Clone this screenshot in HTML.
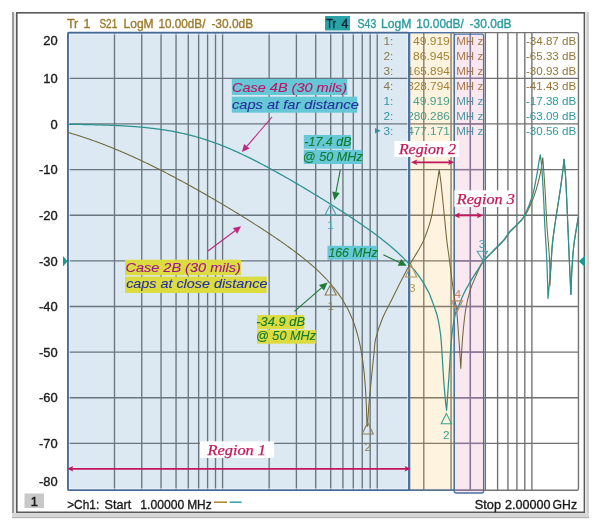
<!DOCTYPE html>
<html><head><meta charset="utf-8"><style>
html,body{margin:0;padding:0;background:#fff;}
svg{display:block;}
</style></head><body>
<svg width="600" height="530" viewBox="0 0 600 530" font-family="'Liberation Sans', Arial, sans-serif">
<rect x="0" y="0" width="600" height="530" fill="#ffffff"/>

<rect x="12" y="12" width="2" height="506" fill="#9a9a9a"/>
<rect x="14" y="13" width="2" height="504" fill="#e8e8e8"/>
<rect x="16" y="12" width="569" height="1.6" fill="#585858"/>
<rect x="16" y="12" width="1.6" height="501" fill="#585858"/>
<rect x="16" y="511.5" width="569" height="1.5" fill="#5a5a5a"/>
<rect x="583.6" y="12" width="1.5" height="501" fill="#5a5a5a"/>
<rect x="585" y="12" width="2" height="506" fill="#e2e2e2"/>
<rect x="587" y="12" width="2" height="506" fill="#cdcdcd"/>
<rect x="12" y="513" width="577" height="5" fill="#d8d8d8"/>
<rect x="12" y="517" width="577" height="1.2" fill="#b4b4b4"/>
<text x="393.3" y="44.9" font-size="11.8" fill="#967634" text-anchor="end">1:</text>
<text x="449.8" y="44.9" font-size="11.8" fill="#967634" text-anchor="end" textLength="36.8" lengthAdjust="spacingAndGlyphs">49.919</text>
<text x="456.2" y="44.9" font-size="11.6" fill="#967634" textLength="27.0" lengthAdjust="spacingAndGlyphs">MH z</text>
<text x="576.2" y="44.9" font-size="11.6" fill="#967634" text-anchor="end">-34.87 dB</text>
<text x="393.3" y="59.9" font-size="11.8" fill="#967634" text-anchor="end">2:</text>
<text x="449.8" y="59.9" font-size="11.8" fill="#967634" text-anchor="end" textLength="36.8" lengthAdjust="spacingAndGlyphs">86.945</text>
<text x="456.2" y="59.9" font-size="11.6" fill="#967634" textLength="27.0" lengthAdjust="spacingAndGlyphs">MH z</text>
<text x="576.2" y="59.9" font-size="11.6" fill="#967634" text-anchor="end">-65.33 dB</text>
<text x="393.3" y="74.9" font-size="11.8" fill="#967634" text-anchor="end">3:</text>
<text x="449.8" y="74.9" font-size="11.8" fill="#967634" text-anchor="end" textLength="42.6" lengthAdjust="spacingAndGlyphs">165.894</text>
<text x="456.2" y="74.9" font-size="11.6" fill="#967634" textLength="27.0" lengthAdjust="spacingAndGlyphs">MH z</text>
<text x="576.2" y="74.9" font-size="11.6" fill="#967634" text-anchor="end">-30.93 dB</text>
<text x="393.3" y="89.8" font-size="11.8" fill="#967634" text-anchor="end">4:</text>
<text x="449.8" y="89.8" font-size="11.8" fill="#967634" text-anchor="end" textLength="42.6" lengthAdjust="spacingAndGlyphs">328.794</text>
<text x="456.2" y="89.8" font-size="11.6" fill="#967634" textLength="27.0" lengthAdjust="spacingAndGlyphs">MH z</text>
<text x="576.2" y="89.8" font-size="11.6" fill="#967634" text-anchor="end">-41.43 dB</text>
<text x="393.3" y="104.8" font-size="11.8" fill="#2a9a9e" text-anchor="end">1:</text>
<text x="449.8" y="104.8" font-size="11.8" fill="#2a9a9e" text-anchor="end" textLength="36.8" lengthAdjust="spacingAndGlyphs">49.919</text>
<text x="456.2" y="104.8" font-size="11.6" fill="#2a9a9e" textLength="27.0" lengthAdjust="spacingAndGlyphs">MH z</text>
<text x="576.2" y="104.8" font-size="11.6" fill="#2a9a9e" text-anchor="end">-17.38 dB</text>
<text x="393.3" y="119.8" font-size="11.8" fill="#2a9a9e" text-anchor="end">2:</text>
<text x="449.8" y="119.8" font-size="11.8" fill="#2a9a9e" text-anchor="end" textLength="42.6" lengthAdjust="spacingAndGlyphs">280.286</text>
<text x="456.2" y="119.8" font-size="11.6" fill="#2a9a9e" textLength="27.0" lengthAdjust="spacingAndGlyphs">MH z</text>
<text x="576.2" y="119.8" font-size="11.6" fill="#2a9a9e" text-anchor="end">-63.09 dB</text>
<text x="393.3" y="134.8" font-size="11.8" fill="#2a9a9e" text-anchor="end">3:</text>
<text x="449.8" y="134.8" font-size="11.8" fill="#2a9a9e" text-anchor="end" textLength="42.6" lengthAdjust="spacingAndGlyphs">477.171</text>
<text x="456.2" y="134.8" font-size="11.6" fill="#2a9a9e" textLength="27.0" lengthAdjust="spacingAndGlyphs">MH z</text>
<text x="576.2" y="134.8" font-size="11.6" fill="#2a9a9e" text-anchor="end">-30.56 dB</text>
<polygon points="375,128 375,133.6 380.8,130.8" fill="#2a9a9e"/>
<line x1="114.50" y1="32.66" x2="114.50" y2="490.2" stroke="#707070" stroke-width="1.35"/>
<line x1="141.74" y1="32.66" x2="141.74" y2="490.2" stroke="#707070" stroke-width="1.35"/>
<line x1="161.06" y1="32.66" x2="161.06" y2="490.2" stroke="#707070" stroke-width="1.35"/>
<line x1="176.05" y1="32.66" x2="176.05" y2="490.2" stroke="#707070" stroke-width="1.35"/>
<line x1="188.29" y1="32.66" x2="188.29" y2="490.2" stroke="#707070" stroke-width="1.35"/>
<line x1="198.64" y1="32.66" x2="198.64" y2="490.2" stroke="#707070" stroke-width="1.35"/>
<line x1="207.61" y1="32.66" x2="207.61" y2="490.2" stroke="#707070" stroke-width="1.35"/>
<line x1="215.52" y1="32.66" x2="215.52" y2="490.2" stroke="#707070" stroke-width="1.35"/>
<line x1="222.60" y1="32.66" x2="222.60" y2="490.2" stroke="#707070" stroke-width="1.35"/>
<line x1="269.15" y1="32.66" x2="269.15" y2="490.2" stroke="#707070" stroke-width="1.35"/>
<line x1="296.39" y1="32.66" x2="296.39" y2="490.2" stroke="#707070" stroke-width="1.35"/>
<line x1="315.71" y1="32.66" x2="315.71" y2="490.2" stroke="#707070" stroke-width="1.35"/>
<line x1="330.70" y1="32.66" x2="330.70" y2="490.2" stroke="#707070" stroke-width="1.35"/>
<line x1="342.94" y1="32.66" x2="342.94" y2="490.2" stroke="#707070" stroke-width="1.35"/>
<line x1="353.29" y1="32.66" x2="353.29" y2="490.2" stroke="#707070" stroke-width="1.35"/>
<line x1="362.26" y1="32.66" x2="362.26" y2="490.2" stroke="#707070" stroke-width="1.35"/>
<line x1="370.17" y1="32.66" x2="370.17" y2="490.2" stroke="#707070" stroke-width="1.35"/>
<line x1="377.25" y1="32.66" x2="377.25" y2="490.2" stroke="#707070" stroke-width="1.35"/>
<line x1="423.80" y1="32.66" x2="423.80" y2="490.2" stroke="#707070" stroke-width="1.35"/>
<line x1="451.04" y1="32.66" x2="451.04" y2="490.2" stroke="#707070" stroke-width="1.35"/>
<line x1="470.36" y1="32.66" x2="470.36" y2="490.2" stroke="#707070" stroke-width="1.35"/>
<line x1="485.35" y1="32.66" x2="485.35" y2="490.2" stroke="#707070" stroke-width="1.35"/>
<line x1="497.59" y1="32.66" x2="497.59" y2="490.2" stroke="#707070" stroke-width="1.35"/>
<line x1="507.94" y1="32.66" x2="507.94" y2="490.2" stroke="#707070" stroke-width="1.35"/>
<line x1="516.91" y1="32.66" x2="516.91" y2="490.2" stroke="#707070" stroke-width="1.35"/>
<line x1="524.82" y1="32.66" x2="524.82" y2="490.2" stroke="#707070" stroke-width="1.35"/>
<line x1="531.90" y1="32.66" x2="531.90" y2="490.2" stroke="#707070" stroke-width="1.35"/>
<line x1="67.95" y1="78.30" x2="578.4542888294347" y2="78.30" stroke="#707070" stroke-width="1.35"/>
<line x1="67.95" y1="123.94" x2="578.4542888294347" y2="123.94" stroke="#707070" stroke-width="1.35"/>
<line x1="67.95" y1="169.58" x2="578.4542888294347" y2="169.58" stroke="#707070" stroke-width="1.35"/>
<line x1="67.95" y1="215.22" x2="578.4542888294347" y2="215.22" stroke="#707070" stroke-width="1.35"/>
<line x1="67.95" y1="260.86" x2="578.4542888294347" y2="260.86" stroke="#707070" stroke-width="1.35"/>
<line x1="67.95" y1="306.50" x2="578.4542888294347" y2="306.50" stroke="#707070" stroke-width="1.35"/>
<line x1="67.95" y1="352.14" x2="578.4542888294347" y2="352.14" stroke="#707070" stroke-width="1.35"/>
<line x1="67.95" y1="397.78" x2="578.4542888294347" y2="397.78" stroke="#707070" stroke-width="1.35"/>
<line x1="67.95" y1="443.42" x2="578.4542888294347" y2="443.42" stroke="#707070" stroke-width="1.35"/>
<rect x="67.95" y="32.66" width="510.50428882943476" height="457.53999999999996" fill="none" stroke="#747474" stroke-width="1.4" rx="1.5"/>
<rect x="67.95" y="32.66" width="341.25" height="457.53999999999996" fill="#508cbe" fill-opacity="0.2"/>
<rect x="409.2" y="32.66" width="45.10000000000002" height="457.53999999999996" fill="#f3b635" fill-opacity="0.163"/>
<rect x="454.3" y="34.2" width="29.30000000000001" height="458.8" rx="2" fill="#e37fac" fill-opacity="0.18"/>
<line x1="470.36" y1="34.2" x2="470.36" y2="490.2" stroke="#8a7898" stroke-width="1.35"/>
<line x1="454.3" y1="78.30" x2="483.6" y2="78.30" stroke="#8a7898" stroke-width="1.35"/>
<line x1="454.3" y1="123.94" x2="483.6" y2="123.94" stroke="#8a7898" stroke-width="1.35"/>
<line x1="454.3" y1="169.58" x2="483.6" y2="169.58" stroke="#8a7898" stroke-width="1.35"/>
<line x1="454.3" y1="215.22" x2="483.6" y2="215.22" stroke="#8a7898" stroke-width="1.35"/>
<line x1="454.3" y1="260.86" x2="483.6" y2="260.86" stroke="#8a7898" stroke-width="1.35"/>
<line x1="454.3" y1="306.50" x2="483.6" y2="306.50" stroke="#8a7898" stroke-width="1.35"/>
<line x1="454.3" y1="352.14" x2="483.6" y2="352.14" stroke="#8a7898" stroke-width="1.35"/>
<line x1="454.3" y1="397.78" x2="483.6" y2="397.78" stroke="#8a7898" stroke-width="1.35"/>
<line x1="454.3" y1="443.42" x2="483.6" y2="443.42" stroke="#8a7898" stroke-width="1.35"/>
<line x1="454.3" y1="490.20" x2="483.6" y2="490.20" stroke="#8a7898" stroke-width="1.4"/>
<rect x="69.35000000000001" y="34.059999999999995" width="338.45" height="454.73999999999995" fill="none" stroke="#f4faff" stroke-opacity="0.8" stroke-width="0.9"/>
<rect x="67.95" y="32.66" width="341.25" height="457.53999999999996" fill="none" stroke="#44699a" stroke-width="1.6" rx="1"/>
<line x1="409.2" y1="32.66" x2="409.2" y2="490.2" stroke="#4a72a4" stroke-width="2.2"/>
<rect x="409.2" y="32.66" width="45.10000000000002" height="457.53999999999996" fill="none" stroke="#4a72a4" stroke-width="1.3" rx="2"/>
<rect x="454.3" y="34.2" width="29.30000000000001" height="458.8" rx="2" fill="none" stroke="#4a72a4" stroke-width="1.3"/>
<text x="57.6" y="44.6" font-size="12.9" fill="#1a1a1a" text-anchor="end" stroke="#1a1a1a" stroke-width="0.35">20</text>
<text x="57.6" y="82.9" font-size="12.9" fill="#1a1a1a" text-anchor="end" stroke="#1a1a1a" stroke-width="0.35">10</text>
<text x="57.6" y="128.5" font-size="12.9" fill="#1a1a1a" text-anchor="end" stroke="#1a1a1a" stroke-width="0.35">0</text>
<text x="57.6" y="174.2" font-size="12.9" fill="#1a1a1a" text-anchor="end" stroke="#1a1a1a" stroke-width="0.35">-10</text>
<text x="57.6" y="219.8" font-size="12.9" fill="#1a1a1a" text-anchor="end" stroke="#1a1a1a" stroke-width="0.35">-20</text>
<text x="57.6" y="265.5" font-size="12.9" fill="#1a1a1a" text-anchor="end" stroke="#1a1a1a" stroke-width="0.35">-30</text>
<text x="57.6" y="311.1" font-size="12.9" fill="#1a1a1a" text-anchor="end" stroke="#1a1a1a" stroke-width="0.35">-40</text>
<text x="57.6" y="356.7" font-size="12.9" fill="#1a1a1a" text-anchor="end" stroke="#1a1a1a" stroke-width="0.35">-50</text>
<text x="57.6" y="402.4" font-size="12.9" fill="#1a1a1a" text-anchor="end" stroke="#1a1a1a" stroke-width="0.35">-60</text>
<text x="57.6" y="448.0" font-size="12.9" fill="#1a1a1a" text-anchor="end" stroke="#1a1a1a" stroke-width="0.35">-70</text>
<text x="57.6" y="485.8" font-size="12.9" fill="#1a1a1a" text-anchor="end" stroke="#1a1a1a" stroke-width="0.35">-80</text>
<text x="66.9" y="27.9" font-size="12.4" fill="#9a7a2a" textLength="11.4" lengthAdjust="spacingAndGlyphs" stroke="#9a7a2a" stroke-width="0.35">Tr</text>
<text x="83.6" y="27.9" font-size="12.4" fill="#9a7a2a" stroke="#9a7a2a" stroke-width="0.35">1</text>
<text x="99.4" y="27.9" font-size="12.4" fill="#9a7a2a" textLength="17.9" lengthAdjust="spacingAndGlyphs" stroke="#9a7a2a" stroke-width="0.35">S21</text>
<text x="123.6" y="27.9" font-size="12.4" fill="#9a7a2a" textLength="30.0" lengthAdjust="spacingAndGlyphs" stroke="#9a7a2a" stroke-width="0.35">LogM</text>
<text x="158.4" y="27.9" font-size="12.4" fill="#9a7a2a" textLength="47.0" lengthAdjust="spacingAndGlyphs" stroke="#9a7a2a" stroke-width="0.35">10.00dB/</text>
<text x="211.4" y="27.9" font-size="12.4" fill="#9a7a2a" textLength="41.8" lengthAdjust="spacingAndGlyphs" stroke="#9a7a2a" stroke-width="0.35">-30.0dB</text>
<rect x="325" y="16" width="25" height="14.5" fill="#2aa3a6"/>
<text x="326.2" y="28.0" font-size="12.4" fill="#0e2230" textLength="9.8" lengthAdjust="spacingAndGlyphs" stroke="#0e2230" stroke-width="0.35">Tr</text>
<text x="341.6" y="28.0" font-size="12.4" fill="#0e2230" stroke="#0e2230" stroke-width="0.35">4</text>
<text x="357.6" y="28.0" font-size="12.4" fill="#2a9a9c" textLength="18.7" lengthAdjust="spacingAndGlyphs" stroke="#2a9a9c" stroke-width="0.35">S43</text>
<text x="381.1" y="28.0" font-size="12.4" fill="#2a9a9c" textLength="30.4" lengthAdjust="spacingAndGlyphs" stroke="#2a9a9c" stroke-width="0.35">LogM</text>
<text x="416.3" y="28.0" font-size="12.4" fill="#2a9a9c" textLength="47.5" lengthAdjust="spacingAndGlyphs" stroke="#2a9a9c" stroke-width="0.35">10.00dB/</text>
<text x="469.6" y="28.0" font-size="12.4" fill="#2a9a9c" textLength="42.0" lengthAdjust="spacingAndGlyphs" stroke="#2a9a9c" stroke-width="0.35">-30.0dB</text>
<path d="M68.00,132.45 C68.33,132.54 69.33,132.83 70.00,133.03 C70.67,133.23 71.33,133.43 72.00,133.63 C72.67,133.83 73.33,134.03 74.00,134.23 C74.67,134.43 75.33,134.64 76.00,134.85 C76.67,135.05 77.33,135.26 78.00,135.47 C78.67,135.68 79.33,135.90 80.00,136.11 C80.67,136.33 81.33,136.54 82.00,136.76 C82.67,136.98 83.33,137.20 84.00,137.42 C84.67,137.64 85.33,137.86 86.00,138.09 C86.67,138.31 87.33,138.54 88.00,138.77 C88.67,139.00 89.33,139.23 90.00,139.46 C90.67,139.69 91.33,139.93 92.00,140.16 C92.67,140.40 93.33,140.64 94.00,140.88 C94.67,141.12 95.33,141.36 96.00,141.60 C96.67,141.84 97.33,142.09 98.00,142.33 C98.67,142.58 99.33,142.83 100.00,143.08 C100.67,143.33 101.33,143.58 102.00,143.83 C102.67,144.08 103.33,144.34 104.00,144.60 C104.67,144.85 105.33,145.11 106.00,145.37 C106.67,145.63 107.33,145.89 108.00,146.16 C108.67,146.42 109.33,146.68 110.00,146.95 C110.67,147.22 111.33,147.49 112.00,147.76 C112.67,148.03 113.33,148.30 114.00,148.57 C114.67,148.84 115.33,149.12 116.00,149.39 C116.67,149.67 117.33,149.95 118.00,150.23 C118.67,150.51 119.33,150.79 120.00,151.07 C120.67,151.36 121.33,151.64 122.00,151.93 C122.67,152.21 123.33,152.50 124.00,152.79 C124.67,153.08 125.33,153.37 126.00,153.66 C126.67,153.95 127.33,154.25 128.00,154.54 C128.67,154.84 129.33,155.13 130.00,155.43 C130.67,155.73 131.33,156.03 132.00,156.33 C132.67,156.63 133.33,156.94 134.00,157.24 C134.67,157.54 135.33,157.85 136.00,158.16 C136.67,158.46 137.33,158.77 138.00,159.08 C138.67,159.39 139.33,159.70 140.00,160.01 C140.67,160.33 141.33,160.64 142.00,160.96 C142.67,161.27 143.33,161.59 144.00,161.91 C144.67,162.22 145.33,162.54 146.00,162.86 C146.67,163.18 147.33,163.51 148.00,163.83 C148.67,164.15 149.33,164.48 150.00,164.80 C150.67,165.13 151.33,165.45 152.00,165.78 C152.67,166.11 153.33,166.44 154.00,166.77 C154.67,167.10 155.33,167.43 156.00,167.77 C156.67,168.10 157.33,168.43 158.00,168.77 C158.67,169.11 159.33,169.44 160.00,169.78 C160.67,170.12 161.33,170.46 162.00,170.80 C162.67,171.14 163.33,171.48 164.00,171.82 C164.67,172.16 165.33,172.51 166.00,172.85 C166.67,173.20 167.33,173.54 168.00,173.89 C168.67,174.24 169.33,174.58 170.00,174.93 C170.67,175.28 171.33,175.63 172.00,175.98 C172.67,176.33 173.33,176.69 174.00,177.04 C174.67,177.39 175.33,177.75 176.00,178.10 C176.67,178.46 177.33,178.81 178.00,179.17 C178.67,179.53 179.33,179.89 180.00,180.25 C180.67,180.61 181.33,180.97 182.00,181.33 C182.67,181.69 183.33,182.05 184.00,182.41 C184.67,182.78 185.33,183.14 186.00,183.50 C186.67,183.87 187.33,184.24 188.00,184.60 C188.67,184.97 189.33,185.34 190.00,185.70 C190.67,186.07 191.33,186.44 192.00,186.81 C192.67,187.18 193.33,187.55 194.00,187.93 C194.67,188.30 195.33,188.67 196.00,189.05 C196.67,189.42 197.33,189.79 198.00,190.17 C198.67,190.54 199.33,190.92 200.00,191.30 C200.67,191.68 201.33,192.05 202.00,192.43 C202.67,192.81 203.33,193.19 204.00,193.57 C204.67,193.95 205.33,194.33 206.00,194.72 C206.67,195.10 207.33,195.48 208.00,195.86 C208.67,196.25 209.33,196.63 210.00,197.02 C210.67,197.40 211.33,197.79 212.00,198.18 C212.67,198.56 213.33,198.95 214.00,199.34 C214.67,199.73 215.33,200.12 216.00,200.51 C216.67,200.90 217.33,201.29 218.00,201.68 C218.67,202.07 219.33,202.46 220.00,202.86 C220.67,203.25 221.33,203.65 222.00,204.04 C222.67,204.44 223.33,204.83 224.00,205.23 C224.67,205.62 225.33,206.02 226.00,206.42 C226.67,206.82 227.33,207.22 228.00,207.62 C228.67,208.02 229.33,208.42 230.00,208.82 C230.67,209.22 231.33,209.62 232.00,210.02 C232.67,210.43 233.33,210.83 234.00,211.24 C234.67,211.64 235.33,212.05 236.00,212.45 C236.67,212.86 237.33,213.27 238.00,213.68 C238.67,214.08 239.33,214.49 240.00,214.90 C240.67,215.31 241.33,215.72 242.00,216.14 C242.67,216.55 243.33,216.96 244.00,217.37 C244.67,217.79 245.33,218.20 246.00,218.62 C246.67,219.03 247.33,219.45 248.00,219.87 C248.67,220.28 249.33,220.70 250.00,221.12 C250.67,221.54 251.33,221.96 252.00,222.38 C252.67,222.80 253.33,223.23 254.00,223.65 C254.67,224.07 255.33,224.50 256.00,224.93 C256.67,225.35 257.33,225.78 258.00,226.21 C258.67,226.64 259.33,227.06 260.00,227.50 C260.67,227.93 261.33,228.36 262.00,228.79 C262.67,229.22 263.33,229.66 264.00,230.10 C264.67,230.53 265.33,230.97 266.00,231.41 C266.67,231.85 267.33,232.29 268.00,232.73 C268.67,233.17 269.33,233.61 270.00,234.06 C270.67,234.50 271.33,234.95 272.00,235.40 C272.67,235.84 273.33,236.29 274.00,236.74 C274.67,237.20 275.33,237.65 276.00,238.10 C276.67,238.56 277.33,239.01 278.00,239.47 C278.67,239.93 279.33,240.39 280.00,240.86 C280.67,241.32 281.33,241.78 282.00,242.25 C282.67,242.72 283.33,243.18 284.00,243.66 C284.67,244.13 285.33,244.60 286.00,245.08 C286.67,245.55 287.33,246.03 288.00,246.51 C288.67,246.99 289.33,247.48 290.00,247.97 C290.67,248.45 291.33,248.94 292.00,249.43 C292.67,249.93 293.33,250.42 294.00,250.92 C294.67,251.42 295.33,251.92 296.00,252.43 C296.67,252.93 297.33,253.44 298.00,253.95 C298.67,254.47 299.33,254.98 300.00,255.50 C300.67,256.02 301.33,256.55 302.00,257.08 C302.67,257.61 303.33,258.14 304.00,258.68 C304.67,259.21 305.33,259.75 306.00,260.30 C306.67,260.85 307.33,261.40 308.00,261.96 C308.67,262.52 309.33,263.08 310.00,263.65 C310.67,264.22 311.33,264.79 312.00,265.37 C312.67,265.95 313.33,266.54 314.00,267.14 C314.67,267.73 315.33,268.33 316.00,268.94 C316.67,269.55 317.33,270.17 318.00,270.79 C318.67,271.42 319.33,272.05 320.00,272.69 C320.67,273.34 321.33,273.99 322.00,274.65 C322.67,275.31 323.33,275.98 324.00,276.67 C324.67,277.35 325.33,278.04 326.00,278.75 C326.67,279.46 327.33,280.18 328.00,280.91 C328.67,281.64 329.33,282.39 330.00,283.15 C330.67,283.92 331.33,284.69 332.00,285.49 C332.67,286.28 333.33,287.10 334.00,287.93 C334.67,288.76 335.33,289.61 336.00,290.49 C336.67,291.36 337.33,292.26 338.00,293.18 C338.67,294.11 339.33,295.05 340.00,296.03 C340.67,297.01 341.33,298.02 342.00,299.06 C342.67,300.11 343.33,301.18 344.00,302.30 C344.67,303.42 345.33,304.58 346.00,305.79 C346.67,307.01 347.33,308.26 348.00,309.58 C348.67,310.90 349.33,312.27 350.00,313.73 C350.67,315.19 351.33,316.71 352.00,318.34 C352.67,319.97 353.33,321.67 354.00,323.52 C354.67,325.38 355.33,327.31 356.00,329.47 C356.67,331.62 357.33,333.87 358.00,336.46 C358.67,339.04 359.58,343.14 360.00,344.97 C360.42,346.80 360.33,346.58 360.50,347.43 C360.67,348.28 360.83,349.15 361.00,350.06 C361.17,350.96 361.33,351.90 361.50,352.88 C361.67,353.85 361.83,354.86 362.00,355.92 C362.17,356.98 362.33,358.07 362.50,359.23 C362.67,360.38 362.83,361.58 363.00,362.85 C363.17,364.13 363.33,365.45 363.50,366.86 C363.67,368.28 363.83,369.76 364.00,371.35 C364.17,372.95 364.33,374.62 364.50,376.45 C364.67,378.28 364.83,380.20 365.00,382.35 C365.17,384.51 365.33,386.76 365.50,389.36 C365.67,391.97 365.83,394.69 366.00,398.01 C366.17,401.32 366.33,404.69 366.50,409.28 C366.67,413.87 366.82,423.10 367.00,425.55 C367.18,428.01 367.50,424.26 367.60,424.00 C367.92,419.67 368.43,409.83 369.50,398.00 C370.57,386.17 372.95,362.95 374.00,353.00 C375.05,343.05 374.37,344.13 375.80,338.30 C377.23,332.47 380.05,324.22 382.60,318.00 C385.15,311.78 387.98,307.23 391.10,301.00 C394.22,294.77 398.18,286.68 401.30,280.60 C404.42,274.52 407.10,269.30 409.80,264.50 C412.50,259.70 415.27,255.65 417.50,251.80 C419.73,247.95 421.47,245.17 423.20,241.40 C424.93,237.63 426.48,233.45 427.90,229.20 C429.32,224.95 430.60,220.93 431.70,215.90 C432.80,210.87 433.62,204.33 434.50,199.00 C435.38,193.67 436.22,188.78 437.00,183.90 C437.78,179.02 438.83,172.07 439.20,169.70 C439.52,172.07 440.30,176.82 441.10,183.90 C441.90,190.98 443.05,202.77 444.00,212.20 C444.95,221.63 445.87,232.33 446.80,240.50 C447.73,248.67 448.78,254.95 449.60,261.20 C450.42,267.45 450.88,271.87 451.70,278.00 C452.52,284.13 453.68,292.67 454.50,298.00 C455.32,303.33 455.87,303.17 456.60,310.00 C457.33,316.83 458.20,329.25 458.90,339.00 C459.60,348.75 460.48,363.58 460.80,368.50 C461.08,363.58 461.70,348.75 462.50,339.00 C463.30,329.25 464.32,318.15 465.60,310.00 C466.88,301.85 468.45,295.83 470.20,290.10 C471.95,284.37 474.02,280.22 476.10,275.60 C478.18,270.98 480.05,266.25 482.70,262.40 C485.35,258.55 488.48,256.15 492.00,252.50 C495.52,248.85 500.88,243.83 503.80,240.50 C506.72,237.17 507.30,235.08 509.50,232.50 C511.70,229.92 514.50,227.67 517.00,225.00 C519.50,222.33 522.33,219.67 524.50,216.50 C526.67,213.33 528.08,210.37 530.00,206.00 C531.92,201.63 534.23,195.93 536.00,190.30 C537.77,184.67 539.47,177.62 540.60,172.20 C541.73,166.78 542.43,160.20 542.80,157.80 C543.18,163.22 544.42,179.10 545.10,190.30 C545.78,201.50 546.15,213.38 546.90,225.00 C547.65,236.62 549.08,249.88 549.60,260.00 C550.12,270.12 549.93,281.42 550.00,285.70 C550.13,282.75 550.40,274.95 550.80,268.00 C551.20,261.05 551.60,252.00 552.40,244.00 C553.20,236.00 554.30,228.95 555.60,220.00 C556.90,211.05 558.98,198.63 560.20,190.30 C561.42,181.97 562.27,175.17 562.90,170.00 C563.53,164.83 563.82,161.08 564.00,159.30 C564.25,161.95 565.00,167.52 565.50,175.20 C566.00,182.88 566.37,191.27 567.00,205.40 C567.63,219.53 568.65,245.15 569.30,260.00 C569.95,274.85 570.63,288.75 570.90,294.50 C571.08,290.08 571.48,276.42 572.00,268.00 C572.52,259.58 572.95,252.50 574.00,244.00 C575.05,235.50 577.58,221.50 578.30,217.00" fill="none" stroke="#70663a" stroke-width="1.05" stroke-linejoin="round"/>
<path d="M68.00,124.29 C68.33,124.29 69.33,124.31 70.00,124.32 C70.67,124.32 71.33,124.33 72.00,124.34 C72.67,124.35 73.33,124.36 74.00,124.37 C74.67,124.38 75.33,124.39 76.00,124.40 C76.67,124.41 77.33,124.42 78.00,124.43 C78.67,124.44 79.33,124.45 80.00,124.46 C80.67,124.47 81.33,124.48 82.00,124.50 C82.67,124.51 83.33,124.52 84.00,124.53 C84.67,124.55 85.33,124.56 86.00,124.57 C86.67,124.59 87.33,124.60 88.00,124.61 C88.67,124.63 89.33,124.64 90.00,124.66 C90.67,124.67 91.33,124.69 92.00,124.70 C92.67,124.72 93.33,124.74 94.00,124.75 C94.67,124.77 95.33,124.79 96.00,124.80 C96.67,124.82 97.33,124.84 98.00,124.86 C98.67,124.88 99.33,124.90 100.00,124.92 C100.67,124.94 101.33,124.96 102.00,124.98 C102.67,125.00 103.33,125.02 104.00,125.04 C104.67,125.06 105.33,125.09 106.00,125.11 C106.67,125.13 107.33,125.16 108.00,125.18 C108.67,125.21 109.33,125.23 110.00,125.26 C110.67,125.28 111.33,125.31 112.00,125.34 C112.67,125.37 113.33,125.40 114.00,125.42 C114.67,125.45 115.33,125.48 116.00,125.51 C116.67,125.55 117.33,125.58 118.00,125.61 C118.67,125.64 119.33,125.68 120.00,125.71 C120.67,125.74 121.33,125.78 122.00,125.82 C122.67,125.85 123.33,125.89 124.00,125.93 C124.67,125.96 125.33,126.00 126.00,126.04 C126.67,126.08 127.33,126.13 128.00,126.17 C128.67,126.21 129.33,126.25 130.00,126.30 C130.67,126.34 131.33,126.39 132.00,126.44 C132.67,126.48 133.33,126.53 134.00,126.58 C134.67,126.63 135.33,126.68 136.00,126.73 C136.67,126.79 137.33,126.84 138.00,126.90 C138.67,126.95 139.33,127.01 140.00,127.06 C140.67,127.12 141.33,127.18 142.00,127.24 C142.67,127.30 143.33,127.37 144.00,127.43 C144.67,127.49 145.33,127.56 146.00,127.63 C146.67,127.69 147.33,127.76 148.00,127.83 C148.67,127.90 149.33,127.97 150.00,128.05 C150.67,128.12 151.33,128.20 152.00,128.28 C152.67,128.35 153.33,128.43 154.00,128.51 C154.67,128.60 155.33,128.68 156.00,128.76 C156.67,128.85 157.33,128.94 158.00,129.03 C158.67,129.12 159.33,129.21 160.00,129.30 C160.67,129.39 161.33,129.49 162.00,129.59 C162.67,129.68 163.33,129.78 164.00,129.89 C164.67,129.99 165.33,130.09 166.00,130.20 C166.67,130.31 167.33,130.42 168.00,130.53 C168.67,130.64 169.33,130.75 170.00,130.87 C170.67,130.98 171.33,131.10 172.00,131.22 C172.67,131.34 173.33,131.47 174.00,131.59 C174.67,131.72 175.33,131.85 176.00,131.98 C176.67,132.11 177.33,132.25 178.00,132.38 C178.67,132.52 179.33,132.66 180.00,132.80 C180.67,132.94 181.33,133.09 182.00,133.24 C182.67,133.38 183.33,133.53 184.00,133.69 C184.67,133.84 185.33,133.99 186.00,134.15 C186.67,134.31 187.33,134.47 188.00,134.64 C188.67,134.80 189.33,134.97 190.00,135.14 C190.67,135.31 191.33,135.48 192.00,135.66 C192.67,135.84 193.33,136.01 194.00,136.20 C194.67,136.38 195.33,136.56 196.00,136.75 C196.67,136.94 197.33,137.13 198.00,137.32 C198.67,137.52 199.33,137.71 200.00,137.91 C200.67,138.11 201.33,138.32 202.00,138.52 C202.67,138.73 203.33,138.94 204.00,139.15 C204.67,139.36 205.33,139.57 206.00,139.79 C206.67,140.01 207.33,140.23 208.00,140.45 C208.67,140.68 209.33,140.90 210.00,141.13 C210.67,141.36 211.33,141.60 212.00,141.83 C212.67,142.07 213.33,142.31 214.00,142.55 C214.67,142.79 215.33,143.03 216.00,143.28 C216.67,143.53 217.33,143.78 218.00,144.03 C218.67,144.28 219.33,144.54 220.00,144.79 C220.67,145.05 221.33,145.31 222.00,145.58 C222.67,145.84 223.33,146.11 224.00,146.38 C224.67,146.65 225.33,146.92 226.00,147.19 C226.67,147.47 227.33,147.74 228.00,148.02 C228.67,148.30 229.33,148.59 230.00,148.87 C230.67,149.16 231.33,149.44 232.00,149.73 C232.67,150.02 233.33,150.32 234.00,150.61 C234.67,150.91 235.33,151.20 236.00,151.50 C236.67,151.80 237.33,152.10 238.00,152.41 C238.67,152.71 239.33,153.02 240.00,153.33 C240.67,153.64 241.33,153.95 242.00,154.26 C242.67,154.57 243.33,154.89 244.00,155.21 C244.67,155.52 245.33,155.84 246.00,156.16 C246.67,156.49 247.33,156.81 248.00,157.13 C248.67,157.46 249.33,157.79 250.00,158.12 C250.67,158.45 251.33,158.78 252.00,159.11 C252.67,159.44 253.33,159.78 254.00,160.12 C254.67,160.45 255.33,160.79 256.00,161.13 C256.67,161.47 257.33,161.81 258.00,162.16 C258.67,162.50 259.33,162.85 260.00,163.19 C260.67,163.54 261.33,163.89 262.00,164.24 C262.67,164.59 263.33,164.94 264.00,165.29 C264.67,165.65 265.33,166.00 266.00,166.36 C266.67,166.71 267.33,167.07 268.00,167.43 C268.67,167.79 269.33,168.15 270.00,168.51 C270.67,168.87 271.33,169.23 272.00,169.60 C272.67,169.96 273.33,170.33 274.00,170.69 C274.67,171.06 275.33,171.43 276.00,171.80 C276.67,172.17 277.33,172.54 278.00,172.91 C278.67,173.28 279.33,173.65 280.00,174.03 C280.67,174.40 281.33,174.78 282.00,175.15 C282.67,175.53 283.33,175.90 284.00,176.28 C284.67,176.66 285.33,177.04 286.00,177.42 C286.67,177.80 287.33,178.18 288.00,178.56 C288.67,178.95 289.33,179.33 290.00,179.71 C290.67,180.10 291.33,180.48 292.00,180.87 C292.67,181.25 293.33,181.64 294.00,182.03 C294.67,182.42 295.33,182.80 296.00,183.19 C296.67,183.58 297.33,183.97 298.00,184.37 C298.67,184.76 299.33,185.15 300.00,185.54 C300.67,185.94 301.33,186.33 302.00,186.72 C302.67,187.12 303.33,187.51 304.00,187.91 C304.67,188.31 305.33,188.70 306.00,189.10 C306.67,189.50 307.33,189.90 308.00,190.30 C308.67,190.70 309.33,191.10 310.00,191.50 C310.67,191.90 311.33,192.30 312.00,192.71 C312.67,193.11 313.33,193.51 314.00,193.92 C314.67,194.32 315.33,194.73 316.00,195.13 C316.67,195.54 317.33,195.95 318.00,196.36 C318.67,196.76 319.33,197.17 320.00,197.58 C320.67,197.99 321.33,198.40 322.00,198.81 C322.67,199.22 323.33,199.64 324.00,200.05 C324.67,200.46 325.33,200.88 326.00,201.29 C326.67,201.70 327.33,202.12 328.00,202.54 C328.67,202.95 329.33,203.37 330.00,203.79 C330.67,204.21 331.33,204.63 332.00,205.05 C332.67,205.47 333.33,205.89 334.00,206.31 C334.67,206.73 335.33,207.15 336.00,207.58 C336.67,208.00 337.33,208.43 338.00,208.85 C338.67,209.28 339.33,209.71 340.00,210.14 C340.67,210.56 341.33,210.99 342.00,211.42 C342.67,211.86 343.33,212.29 344.00,212.72 C344.67,213.15 345.33,213.59 346.00,214.02 C346.67,214.46 347.33,214.90 348.00,215.33 C348.67,215.77 349.33,216.21 350.00,216.65 C350.67,217.09 351.33,217.54 352.00,217.98 C352.67,218.43 353.33,218.87 354.00,219.32 C354.67,219.77 355.33,220.21 356.00,220.66 C356.67,221.12 357.33,221.57 358.00,222.02 C358.67,222.48 359.33,222.93 360.00,223.39 C360.67,223.85 361.33,224.31 362.00,224.77 C362.67,225.23 363.33,225.69 364.00,226.16 C364.67,226.62 365.33,227.09 366.00,227.56 C366.67,228.03 367.33,228.51 368.00,228.98 C368.67,229.46 369.33,229.93 370.00,230.41 C370.67,230.89 371.33,231.38 372.00,231.86 C372.67,232.35 373.33,232.84 374.00,233.33 C374.67,233.82 375.33,234.32 376.00,234.81 C376.67,235.31 377.33,235.81 378.00,236.32 C378.67,236.82 379.33,237.33 380.00,237.84 C380.67,238.36 381.33,238.87 382.00,239.39 C382.67,239.91 383.33,240.44 384.00,240.97 C384.67,241.49 385.33,242.03 386.00,242.57 C386.67,243.10 387.33,243.65 388.00,244.19 C388.67,244.74 389.33,245.30 390.00,245.85 C390.67,246.41 391.33,246.98 392.00,247.55 C392.67,248.12 393.33,248.70 394.00,249.28 C394.67,249.87 395.33,250.46 396.00,251.05 C396.67,251.65 397.33,252.26 398.00,252.87 C398.67,253.49 399.33,254.11 400.00,254.74 C400.67,255.37 401.33,256.01 402.00,256.66 C402.67,257.31 403.33,257.97 404.00,258.64 C404.67,259.31 405.33,259.99 406.00,260.69 C406.67,261.38 407.33,262.09 408.00,262.81 C408.67,263.53 409.33,264.26 410.00,265.01 C410.67,265.76 411.33,266.52 412.00,267.30 C412.67,268.09 413.33,268.88 414.00,269.70 C414.67,270.52 415.33,271.36 416.00,272.22 C416.67,273.08 417.33,273.96 418.00,274.87 C418.67,275.78 419.33,276.72 420.00,277.68 C420.67,278.65 421.33,279.64 422.00,280.67 C422.67,281.71 423.33,282.77 424.00,283.88 C424.67,284.99 425.33,286.13 426.00,287.34 C426.67,288.54 427.33,289.79 428.00,291.10 C428.67,292.42 428.48,291.20 430.00,295.25 C431.52,299.30 435.35,308.94 437.10,315.40 C438.85,321.86 439.70,328.02 440.50,334.00 C441.30,339.98 441.38,343.80 441.90,351.30 C442.42,358.80 443.02,370.82 443.60,379.00 C444.18,387.18 444.90,395.20 445.40,400.40 C445.90,405.60 446.40,408.57 446.60,410.20 C447.00,404.48 448.18,387.77 449.00,375.90 C449.82,364.03 450.47,349.23 451.50,339.00 C452.53,328.77 453.95,320.17 455.20,314.50 C456.45,308.83 457.50,308.62 459.00,305.00 C460.50,301.38 462.23,296.82 464.20,292.80 C466.17,288.78 468.60,284.65 470.80,280.90 C473.00,277.15 475.30,273.60 477.40,270.30 C479.50,267.00 480.97,264.17 483.40,261.10 C485.83,258.03 488.60,255.42 492.00,251.90 C495.40,248.38 500.90,243.32 503.80,240.00 C506.70,236.68 507.20,234.58 509.40,232.00 C511.60,229.42 514.53,227.17 517.00,224.50 C519.47,221.83 521.65,220.70 524.20,216.00 C526.75,211.30 530.20,203.10 532.30,196.30 C534.40,189.50 535.68,180.98 536.80,175.20 C537.92,169.42 538.42,165.00 539.00,161.60 C539.58,158.20 540.08,155.93 540.30,154.80 C540.55,156.93 541.25,160.43 541.80,167.60 C542.35,174.77 543.10,188.23 543.60,197.80 C544.10,207.37 544.27,214.63 544.80,225.00 C545.33,235.37 546.27,247.75 546.80,260.00 C547.33,272.25 547.80,292.08 548.00,298.50 C548.47,293.42 550.07,277.08 550.80,268.00 C551.53,258.92 551.60,252.00 552.40,244.00 C553.20,236.00 554.30,228.95 555.60,220.00 C556.90,211.05 558.98,198.63 560.20,190.30 C561.42,181.97 562.27,175.17 562.90,170.00 C563.53,164.83 563.82,161.08 564.00,159.30 C564.25,161.95 565.00,167.52 565.50,175.20 C566.00,182.88 566.37,191.27 567.00,205.40 C567.63,219.53 568.65,245.15 569.30,260.00 C569.95,274.85 570.63,288.75 570.90,294.50 C571.08,290.08 571.48,276.42 572.00,268.00 C572.52,259.58 572.95,252.50 574.00,244.00 C575.05,235.50 577.58,221.50 578.30,217.00" fill="none" stroke="#2c9290" stroke-width="1.25" stroke-linejoin="round"/>
<polygon points="330.7,284.2 325.1,295.0 336.3,295.0" fill="none" stroke="#8c7e58" stroke-width="1.1" stroke-linejoin="miter"/>
<text x="330.7" y="310.1" font-size="11.8" fill="#8c7e58" text-anchor="middle">1</text>
<polygon points="367.7,422.5 362.1,434.0 373.3,434.0" fill="none" stroke="#8c7e58" stroke-width="1.1" stroke-linejoin="miter"/>
<text x="367.7" y="451.1" font-size="11.8" fill="#8c7e58" text-anchor="middle">2</text>
<polygon points="411.1,264.5 405.5,277.0 416.7,277.0" fill="none" stroke="#b09a5a" stroke-width="1.1" stroke-linejoin="miter"/>
<text x="412.2" y="291.6" font-size="11.8" fill="#b09a5a" text-anchor="middle">3</text>
<polygon points="457.0,312.2 451.5,300.9 462.5,300.9" fill="none" stroke="#c08a60" stroke-width="1.1"/>
<text x="457.8" y="297.6" font-size="11.8" fill="#c08a60" text-anchor="middle">4</text>
<polygon points="330.6,204.2 325.0,215.0 336.2,215.0" fill="none" stroke="#4aa6ac" stroke-width="1.1" stroke-linejoin="miter"/>
<text x="330.6" y="228.9" font-size="11.8" fill="#4aa6ac" text-anchor="middle">1</text>
<polygon points="446.4,413.6 441.2,423.8 451.6,423.8" fill="none" stroke="#3aa688" stroke-width="1.1" stroke-linejoin="miter"/>
<text x="446.4" y="439.4" font-size="11.8" fill="#3aa688" text-anchor="middle">2</text>
<polygon points="482.4,259.8 477.2,251.3 487.6,251.3" fill="none" stroke="#4aa6ac" stroke-width="1.1"/>
<text x="482.1" y="247.6" font-size="11.8" fill="#4aa6ac" text-anchor="middle">3</text>
<polygon points="63,256 63,266.5 67.6,261.2" fill="#1a9a92"/>
<polygon points="584.8,255.7 584.8,267 578.7,261.2" fill="#1a9a92"/>
<rect x="394.3" y="141" width="64.7" height="16" fill="#ffffff"/>
<text x="398.9" y="154.2" font-family="'Liberation Serif', 'DejaVu Serif', serif" font-style="italic" font-size="14.5" fill="#c2185b" stroke="#c2185b" stroke-width="0.25" textLength="57" lengthAdjust="spacingAndGlyphs">Region 2</text>
<rect x="454.3" y="190.3" width="61.4" height="16.7" fill="#ffffff"/>
<text x="456.8" y="204.2" font-family="'Liberation Serif', 'DejaVu Serif', serif" font-style="italic" font-size="14.5" fill="#c2185b" stroke="#c2185b" stroke-width="0.25" textLength="58" lengthAdjust="spacingAndGlyphs">Region 3</text>
<rect x="200" y="441.3" width="74.2" height="16.7" fill="#ffffff"/>
<text x="207.5" y="455" font-family="'Liberation Serif', 'DejaVu Serif', serif" font-style="italic" font-size="14.5" fill="#c2185b" stroke="#c2185b" stroke-width="0.25" textLength="58.5" lengthAdjust="spacingAndGlyphs">Region 1</text>
<line x1="415" y1="162.3" x2="450.3" y2="162.3" stroke="#c2185b" stroke-width="1.8"/>
<polygon points="411,162.3 417.2,159.5 416,162.3 417.2,165.10000000000002" fill="#c2185b"/>
<polygon points="454.3,162.3 448.1,159.5 449.3,162.3 448.1,165.10000000000002" fill="#c2185b"/>
<line x1="457.7" y1="215.4" x2="479" y2="215.4" stroke="#c2185b" stroke-width="1.8"/>
<polygon points="453.7,215.4 459.9,212.6 458.7,215.4 459.9,218.20000000000002" fill="#c2185b"/>
<polygon points="483,215.4 476.8,212.6 478,215.4 476.8,218.20000000000002" fill="#c2185b"/>
<line x1="71" y1="468.8" x2="406.8" y2="468.8" stroke="#c2185b" stroke-width="1.8"/>
<polygon points="67,468.8 73.2,466.0 72,468.8 73.2,471.6" fill="#c2185b"/>
<polygon points="410.8,468.8 404.6,466.0 405.8,468.8 404.6,471.6" fill="#c2185b"/>
<line x1="272" y1="117" x2="246.9" y2="146.3" stroke="#c0287e" stroke-width="1.1"/>
<polygon points="242,152 244.1,144.0 249.6,148.6" fill="#c0287e"/>
<line x1="208" y1="251" x2="235.1" y2="230.8" stroke="#c0287e" stroke-width="1.1"/>
<polygon points="241.1,226.3 237.2,233.7 232.9,227.9" fill="#c0287e"/>
<line x1="340.3" y1="169.9" x2="335.9" y2="192.3" stroke="#1e7a34" stroke-width="1.1"/>
<polygon points="334.4,200.2 332.2,191.6 339.7,193.1" fill="#1e7a34"/>
<line x1="383.3" y1="254.7" x2="399.5" y2="262.4" stroke="#1e7a34" stroke-width="1.1"/>
<polygon points="406.7,265.8 397.8,265.8 401.1,258.9" fill="#1e7a34"/>
<line x1="294.5" y1="311.3" x2="321.5" y2="287.8" stroke="#1e7a34" stroke-width="1.1"/>
<polygon points="327.5,282.5 324.0,290.6 319.0,284.9" fill="#1e7a34"/>
<rect x="231.8" y="79" width="115.5" height="16" fill="#66c8d6"/>
<rect x="231.8" y="96.7" width="125.4" height="16" fill="#66c8d6"/>
<text x="232.0" y="91.8" font-size="13.5" font-style="italic" fill="#bc1468" textLength="115.2" lengthAdjust="spacingAndGlyphs" stroke="#bc1468" stroke-width="0.12">Case 4B (30 mils)</text>
<text x="232.0" y="108.6" font-size="13.5" font-style="italic" fill="#28309e" textLength="126.8" lengthAdjust="spacingAndGlyphs" stroke="#28309e" stroke-width="0.12">caps at far distance</text>
<rect x="125" y="259.7" width="116" height="15.5" fill="#dcdc40"/>
<rect x="125" y="276.6" width="141.7" height="16.4" fill="#dcdc40"/>
<text x="125.4" y="271.8" font-size="13.5" font-style="italic" fill="#a0168a" textLength="115.4" lengthAdjust="spacingAndGlyphs" stroke="#a0168a" stroke-width="0.12">Case 2B (30 mils)</text>
<text x="126.2" y="288" font-size="13.5" font-style="italic" fill="#2230a8" textLength="141.2" lengthAdjust="spacingAndGlyphs" stroke="#2230a8" stroke-width="0.12">caps at close distance</text>
<rect x="303.8" y="135" width="47.1" height="13.8" fill="#66c8d6"/>
<rect x="303.8" y="149.9" width="58.5" height="14.1" fill="#66c8d6"/>
<text x="304.3" y="146.4" font-size="12.6" font-style="italic" fill="#127a2c" textLength="47.2" lengthAdjust="spacingAndGlyphs" stroke="#127a2c" stroke-width="0.12">-17.4 dB</text>
<text x="302.8" y="160.8" font-size="12.6" font-style="italic" fill="#127a2c" textLength="60" lengthAdjust="spacingAndGlyphs" stroke="#127a2c" stroke-width="0.12">@ 50 MHz</text>
<rect x="327.5" y="245.8" width="49.2" height="13.9" fill="#66c8d6"/>
<text x="328.4" y="256.8" font-size="12.6" font-style="italic" fill="#127a2c" textLength="49.2" lengthAdjust="spacingAndGlyphs" stroke="#127a2c" stroke-width="0.12">166 MHz</text>
<rect x="257" y="315" width="47.2" height="14.2" fill="#dcdc40"/>
<rect x="257" y="330" width="58.8" height="13.7" fill="#dcdc40"/>
<text x="256.3" y="325.9" font-size="12.6" font-style="italic" fill="#127a2c" textLength="48.7" lengthAdjust="spacingAndGlyphs" stroke="#127a2c" stroke-width="0.12">-34.9 dB</text>
<text x="256.0" y="340.4" font-size="12.6" font-style="italic" fill="#127a2c" textLength="60" lengthAdjust="spacingAndGlyphs" stroke="#127a2c" stroke-width="0.12">@ 50 MHz</text>
<rect x="24.5" y="493.5" width="19.5" height="14.5" fill="#c8c8c8"/>
<text x="34.3" y="505.6" font-size="12.8" fill="#1a1a1a" text-anchor="middle" stroke="#1a1a1a" stroke-width="0.5">1</text>
<text x="67.2" y="508.5" font-size="12.8" fill="#1a1a1a" textLength="32.0" lengthAdjust="spacingAndGlyphs" stroke="#1a1a1a" stroke-width="0.35">&gt;Ch1:</text>
<text x="104.6" y="508.5" font-size="12.8" fill="#1a1a1a" textLength="26.6" lengthAdjust="spacingAndGlyphs" stroke="#1a1a1a" stroke-width="0.35">Start</text>
<text x="140.3" y="508.5" font-size="12.8" fill="#1a1a1a" textLength="44.0" lengthAdjust="spacingAndGlyphs" stroke="#1a1a1a" stroke-width="0.35">1.00000</text>
<text x="187.2" y="508.5" font-size="12.8" fill="#1a1a1a" textLength="24.5" lengthAdjust="spacingAndGlyphs" stroke="#1a1a1a" stroke-width="0.35">MHz</text>
<line x1="214" y1="502.2" x2="227" y2="502.2" stroke="#b08a30" stroke-width="1.6"/>
<line x1="229.6" y1="502.2" x2="241.6" y2="502.2" stroke="#3aa6b0" stroke-width="1.6"/>
<text x="474.8" y="508.6" font-size="12.8" fill="#1a1a1a" textLength="26.2" lengthAdjust="spacingAndGlyphs" stroke="#1a1a1a" stroke-width="0.35">Stop</text>
<text x="505.1" y="508.6" font-size="12.8" fill="#1a1a1a" textLength="45.4" lengthAdjust="spacingAndGlyphs" stroke="#1a1a1a" stroke-width="0.35">2.00000</text>
<text x="552.6" y="508.6" font-size="12.8" fill="#1a1a1a" textLength="24.4" lengthAdjust="spacingAndGlyphs" stroke="#1a1a1a" stroke-width="0.35">GHz</text>
</svg>
</body></html>
